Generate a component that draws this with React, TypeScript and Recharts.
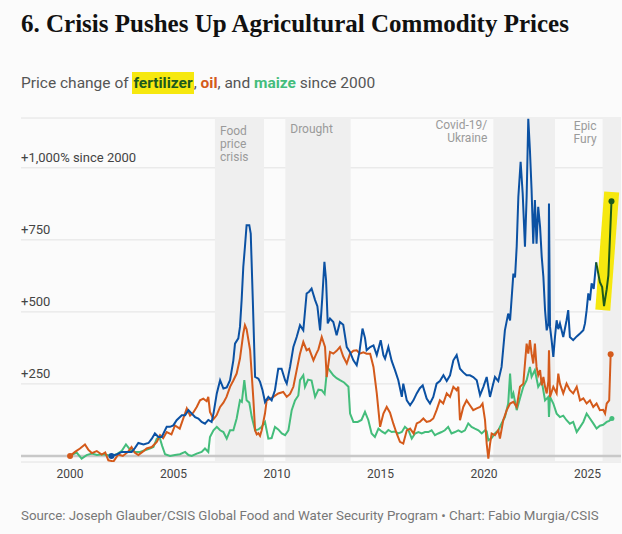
import { CartesianGrid, Line, LineChart, ReferenceArea, ReferenceLine, XAxis, YAxis } from "recharts";

// [year, % change since 2000]
const oil: [number, number][] = [
  [2000.0, 0], [2000.24, 14], [2000.48, 26], [2000.72, 40], [2000.88, 22], [2001.05, 10], [2001.29, 17], [2001.53, 5],
  [2001.7, 12], [2001.85, -15], [2002.1, -19], [2002.33, 5], [2002.55, 0], [2002.8, 14], [2002.97, 31], [2003.12, 12],
  [2003.3, 3], [2003.5, 14], [2003.7, 26], [2003.95, 31], [2004.19, 49], [2004.35, 72], [2004.5, 62], [2004.67, 83],
  [2004.9, 75], [2005.07, 106], [2005.3, 95], [2005.64, 165], [2005.8, 140], [2005.95, 150], [2006.12, 170], [2006.28, 193],
  [2006.44, 199], [2006.6, 190], [2006.68, 205], [2006.76, 153], [2006.93, 128], [2007.08, 141], [2007.25, 170], [2007.41, 185],
  [2007.56, 205], [2007.73, 240], [2007.89, 262], [2008.05, 286], [2008.21, 338], [2008.37, 425], [2008.45, 454], [2008.53, 440],
  [2008.7, 367], [2008.86, 193], [2008.94, 89], [2009.02, 75], [2009.1, 79], [2009.18, 70], [2009.26, 89], [2009.42, 148],
  [2009.5, 193], [2009.66, 198], [2009.82, 205], [2010.06, 217], [2010.3, 222], [2010.47, 205], [2010.63, 215], [2010.79, 240],
  [2010.95, 298], [2011.11, 355], [2011.27, 396], [2011.43, 367], [2011.55, 372], [2011.76, 332], [2011.9, 355], [2012.0, 370],
  [2012.16, 413], [2012.32, 378], [2012.4, 274], [2012.56, 361], [2012.72, 355], [2012.88, 365], [2013.04, 378], [2013.2, 345],
  [2013.37, 321], [2013.53, 355], [2013.69, 365], [2013.85, 367], [2014.0, 355], [2014.17, 360], [2014.33, 355], [2014.5, 355],
  [2014.66, 309], [2014.82, 217], [2014.98, 101], [2015.14, 147], [2015.3, 170], [2015.46, 150], [2015.62, 112], [2015.78, 78],
  [2015.94, 49], [2016.1, 43], [2016.27, 89], [2016.43, 95], [2016.6, 78], [2016.75, 113], [2016.9, 118], [2017.07, 130],
  [2017.23, 118], [2017.39, 121], [2017.55, 130], [2017.71, 159], [2017.87, 193], [2018.03, 182], [2018.2, 217], [2018.36, 205],
  [2018.52, 240], [2018.68, 228], [2018.76, 240], [2018.84, 124], [2019.0, 170], [2019.16, 193], [2019.32, 176], [2019.48, 159],
  [2019.65, 165], [2019.81, 170], [2019.93, 182], [2020.05, 124], [2020.13, 43], [2020.21, -9], [2020.29, 40], [2020.37, 78],
  [2020.53, 72], [2020.69, 89], [2020.77, 60], [2020.93, 124], [2021.1, 159], [2021.26, 182], [2021.42, 188], [2021.58, 170],
  [2021.74, 240], [2021.9, 251], [2021.98, 321], [2022.06, 390], [2022.14, 355], [2022.22, 402], [2022.3, 355], [2022.38, 321],
  [2022.46, 390], [2022.54, 309], [2022.62, 280], [2022.71, 298], [2022.79, 245], [2022.87, 274], [2022.95, 240], [2023.03, 217],
  [2023.11, 260], [2023.14, 367], [2023.19, 205], [2023.35, 240], [2023.51, 217], [2023.59, 286], [2023.67, 251], [2023.83, 217],
  [2023.99, 251], [2024.15, 228], [2024.31, 217], [2024.48, 240], [2024.64, 193], [2024.8, 200], [2024.96, 182], [2025.12, 193],
  [2025.28, 170], [2025.44, 182], [2025.6, 159], [2025.76, 160], [2025.85, 147], [2025.93, 182], [2026.05, 193], [2026.12, 353],
];

const fertilizer: [number, number][] = [
  [2002.0, 0], [2002.25, 5], [2002.5, 14], [2002.75, 14], [2002.98, 14], [2003.14, 28], [2003.3, 45], [2003.55, 40],
  [2003.79, 45], [2003.95, 60], [2004.1, 78], [2004.27, 66], [2004.43, 66], [2004.67, 101], [2004.83, 101], [2004.99, 106],
  [2005.15, 124], [2005.4, 141], [2005.56, 141], [2005.72, 159], [2005.88, 147], [2006.04, 135], [2006.2, 130], [2006.36, 118],
  [2006.52, 112], [2006.68, 125], [2006.84, 118], [2006.93, 147], [2007.09, 217], [2007.25, 263], [2007.41, 234], [2007.57, 238],
  [2007.73, 263], [2007.89, 332], [2007.97, 390], [2008.13, 408], [2008.21, 448], [2008.29, 541], [2008.37, 656], [2008.45, 726],
  [2008.53, 801], [2008.66, 801], [2008.73, 772], [2008.83, 541], [2008.94, 274], [2009.1, 268], [2009.18, 257], [2009.3, 228],
  [2009.42, 187], [2009.58, 205], [2009.74, 193], [2009.9, 228], [2010.06, 303], [2010.22, 303], [2010.39, 263], [2010.47, 251],
  [2010.63, 309], [2010.79, 378], [2010.95, 413], [2011.11, 454], [2011.27, 436], [2011.43, 564], [2011.55, 570], [2011.67, 581],
  [2011.84, 541], [2011.95, 520], [2012.08, 436], [2012.19, 552], [2012.29, 674], [2012.37, 610], [2012.45, 460], [2012.56, 477],
  [2012.72, 465], [2012.88, 419], [2013.04, 465], [2013.2, 455], [2013.37, 378], [2013.53, 360], [2013.69, 332], [2013.85, 315],
  [2013.98, 360], [2014.13, 442], [2014.25, 410], [2014.33, 367], [2014.5, 378], [2014.66, 384], [2014.82, 350], [2015.01, 402],
  [2015.14, 350], [2015.22, 338], [2015.38, 378], [2015.54, 330], [2015.7, 298], [2015.86, 263], [2016.03, 205], [2016.1, 251],
  [2016.27, 193], [2016.43, 176], [2016.59, 193], [2016.75, 217], [2016.9, 235], [2017.04, 245], [2017.23, 199], [2017.39, 182],
  [2017.55, 205], [2017.71, 251], [2017.87, 260], [2018.04, 280], [2018.2, 260], [2018.36, 280], [2018.52, 332], [2018.68, 350],
  [2018.84, 303], [2019.0, 290], [2019.16, 280], [2019.32, 280], [2019.48, 274], [2019.65, 263], [2019.81, 211], [2019.97, 240],
  [2020.13, 274], [2020.29, 205], [2020.41, 240], [2020.53, 274], [2020.69, 260], [2020.85, 309], [2021.01, 436], [2021.17, 494],
  [2021.26, 470], [2021.42, 633], [2021.5, 620], [2021.58, 726], [2021.66, 899], [2021.77, 1021], [2021.87, 911], [2021.98, 726],
  [2022.06, 899], [2022.14, 1170], [2022.22, 1061], [2022.3, 922], [2022.38, 737], [2022.46, 888], [2022.54, 737], [2022.62, 865],
  [2022.71, 795], [2022.79, 691], [2022.87, 621], [2022.95, 506], [2023.03, 436], [2023.11, 460], [2023.14, 876], [2023.19, 448],
  [2023.27, 400], [2023.35, 344], [2023.43, 413], [2023.51, 471], [2023.59, 440], [2023.67, 460], [2023.83, 413], [2023.99, 471],
  [2024.07, 506], [2024.15, 413], [2024.31, 402], [2024.48, 415], [2024.64, 425], [2024.8, 436], [2024.88, 460], [2024.96, 506],
  [2025.04, 564], [2025.12, 540], [2025.2, 599], [2025.3, 580], [2025.42, 672],
];

// latest months of fertilizer, drawn dark green on a marker highlight
const fertilizerLatest: [number, number][] = [
  [2025.42, 672], [2025.6, 603], [2025.71, 586], [2025.8, 520], [2025.93, 579], [2026.01, 627], [2026.16, 884],
];

// span of the yellow marker stroke behind the latest months
const highlightBand: [number, number][] = [
  [2025.74, 506], [2026.17, 916],
];

const maize: [number, number][] = [
  [2000.0, 0], [2000.16, 6], [2000.32, 12], [2000.56, -9], [2000.8, 3], [2001.05, 8], [2001.3, 3], [2001.55, 6],
  [2001.8, 3], [2002.0, 0], [2002.25, 6], [2002.5, 18], [2002.7, 40], [2002.9, 22], [2003.14, 14], [2003.38, 14],
  [2003.62, 20], [2003.85, 26], [2004.03, 31], [2004.19, 60], [2004.32, 66], [2004.45, 35], [2004.59, 6], [2004.83, 0],
  [2005.07, 3], [2005.31, 6], [2005.56, 14], [2005.72, 3], [2005.88, 0], [2006.12, 8], [2006.36, 14], [2006.52, 26],
  [2006.68, 14], [2006.76, 66], [2006.93, 89], [2007.09, 101], [2007.25, 89], [2007.41, 83], [2007.57, 60], [2007.73, 89],
  [2007.89, 89], [2008.05, 130], [2008.21, 193], [2008.3, 188], [2008.42, 263], [2008.53, 193], [2008.66, 185], [2008.78, 135],
  [2008.94, 89], [2009.1, 92], [2009.26, 101], [2009.42, 118], [2009.58, 60], [2009.74, 62], [2009.9, 101], [2010.06, 92],
  [2010.23, 78], [2010.39, 72], [2010.55, 89], [2010.71, 159], [2010.87, 193], [2011.03, 210], [2011.11, 263], [2011.27, 280],
  [2011.35, 240], [2011.5, 265], [2011.67, 262], [2011.84, 205], [2012.0, 230], [2012.16, 228], [2012.3, 215], [2012.43, 309],
  [2012.56, 295], [2012.72, 280], [2012.88, 270], [2013.04, 263], [2013.24, 255], [2013.45, 240], [2013.53, 147], [2013.69, 118],
  [2013.9, 118], [2014.08, 125], [2014.25, 153], [2014.41, 125], [2014.57, 78], [2014.73, 66], [2014.9, 95], [2015.06, 85],
  [2015.22, 78], [2015.38, 90], [2015.54, 83], [2015.7, 85], [2015.86, 78], [2016.03, 83], [2016.18, 101], [2016.35, 90],
  [2016.51, 60], [2016.67, 78], [2016.83, 83], [2016.99, 78], [2017.15, 83], [2017.31, 83], [2017.47, 89], [2017.63, 72],
  [2017.79, 78], [2017.95, 83], [2018.11, 89], [2018.27, 101], [2018.43, 78], [2018.6, 83], [2018.76, 89], [2018.92, 83],
  [2019.08, 89], [2019.24, 113], [2019.4, 101], [2019.56, 95], [2019.73, 89], [2019.89, 78], [2020.05, 89], [2020.13, 85],
  [2020.21, 54], [2020.37, 62], [2020.53, 78], [2020.69, 89], [2020.85, 113], [2021.01, 135], [2021.17, 182], [2021.26, 286],
  [2021.34, 200], [2021.42, 217], [2021.58, 159], [2021.74, 200], [2021.9, 240], [2022.06, 263], [2022.22, 309], [2022.3, 275],
  [2022.46, 298], [2022.62, 240], [2022.79, 260], [2022.95, 193], [2023.11, 205], [2023.14, 135], [2023.19, 205], [2023.35, 182],
  [2023.51, 147], [2023.67, 135], [2023.83, 140], [2023.99, 124], [2024.15, 112], [2024.31, 118], [2024.48, 83], [2024.64, 100],
  [2024.8, 118], [2024.96, 147], [2025.12, 130], [2025.28, 113], [2025.44, 95], [2025.6, 105], [2025.76, 108], [2025.93, 118],
  [2026.05, 122], [2026.18, 130],
];

const crises = [
  { from: 2007.0, to: 2009.37, lines: ["Food", "price", "crisis"], side: "inside", dy: 17 },
  { from: 2010.4, to: 2013.56, lines: ["Drought"], side: "inside", dy: 15 },
  { from: 2020.45, to: 2023.43, lines: ["Covid-19/", "Ukraine"], side: "outside", dy: 11 },
  { from: 2025.73, to: 2026.62, lines: ["Epic", "Fury"], side: "outside", dy: 12 },
];

const yearTicks = [2000, 2005, 2010, 2015, 2020, 2025];
const valueTicks = [0, 250, 500, 750, 1000];
const valueLabels: Record<number, string> = { 250: "+250", 500: "+500", 750: "+750", 1000: "+1,000% since 2000" };

const FONT = "Roboto, 'Liberation Sans', sans-serif";
const BLUE = "#0b51a3";
const ORANGE = "#d45a1b";
const GREEN = "#44bd7b";
const DARK_GREEN = "#1d5a1d";
const YELLOW = "#f6e80f";

const toRows = (pts: [number, number][]) => pts.map(([t, v]) => ({ t, v }));

function endDots(color: string, r: number, first: boolean, last: boolean) {
  return (props: any) => {
    const { cx, cy, index, points } = props;
    const n = points ? points.length - 1 : -1;
    if ((last && index === n) || (first && index === 0)) {
      return <circle key={`d${index}`} cx={cx} cy={cy} r={r} fill={color} />;
    }
    return <g key={`d${index}`} />;
  };
}

function ShadeLabel(props: any) {
  const { viewBox, lines, side, dy } = props;
  const x = side === "inside" ? viewBox.x + 5 : viewBox.x - 6;
  return (
    <text x={x} y={viewBox.y + dy} textAnchor={side === "inside" ? "start" : "end"} fill="#9a9a9a" fontSize={12} fontFamily={FONT}>
      {lines.map((l: string, i: number) => (
        <tspan key={l} x={x} dy={i === 0 ? 0 : 13}>
          {l}
        </tspan>
      ))}
    </text>
  );
}

export default function App() {
  return (
    <div style={{ position: "absolute", left: 0, top: 0, width: 622, height: 534, background: "#fbfbfb", fontFamily: FONT, overflow: "hidden" }}>
      <div style={{ position: "absolute", left: 21, top: 8, fontFamily: "'Liberation Serif', serif", fontWeight: 700, fontSize: 25, lineHeight: "32px", color: "#111" }}>
        6. Crisis Pushes Up Agricultural Commodity Prices
      </div>
      <div style={{ position: "absolute", left: 21, top: 73, fontSize: 15.5, lineHeight: "20px", color: "#555" }}>
        Price change of{" "}
        <span style={{ background: YELLOW, color: DARK_GREEN, fontWeight: 700, padding: "2px 1px" }}>fertilizer</span>,{" "}
        <span style={{ color: ORANGE, fontWeight: 700 }}>oil</span>, and{" "}
        <span style={{ color: GREEN, fontWeight: 700 }}>maize</span> since 2000
      </div>
      <div style={{ position: "absolute", left: 0, top: 0 }}>
        <LineChart width={622} height={534} margin={{ top: 118, right: 1, bottom: 52, left: 21 }}>
          <CartesianGrid vertical={false} stroke="#e2e2e2" />
          {crises.map((c) => (
            <ReferenceArea
              key={c.from}
              x1={c.from}
              x2={c.to}
              fill="#efefef"
              fillOpacity={1}
              stroke="none"
              ifOverflow="hidden"
              label={<ShadeLabel lines={c.lines} side={c.side} dy={c.dy} />}
            />
          ))}
          <XAxis
            type="number"
            dataKey="t"
            domain={[1997.63, 2026.62]}
            ticks={yearTicks}
            allowDataOverflow
            axisLine={false}
            tickLine={false}
            tickSize={0}
            tickMargin={0}
            height={20}
            tick={(p: any) => (
              <text x={p.x} y={p.y} dy={16} textAnchor="middle" fill="#444" fontSize={12} fontFamily={FONT}>
                {p.payload.value}
              </text>
            )}
          />
          <YAxis
            type="number"
            dataKey="v"
            domain={[-21, 1173]}
            ticks={valueTicks}
            allowDataOverflow
            mirror
            width={120}
            axisLine={false}
            tickLine={false}
            tickSize={0}
            tickMargin={0}
            interval={0}
            tick={(p: any) =>
              p.payload.value === 0 ? (
                <g />
              ) : (
                <text x={p.x} y={p.y - 6} textAnchor="start" fill="#444" fontSize={13} fontFamily={FONT}>
                  {valueLabels[p.payload.value]}
                </text>
              )
            }
          />
          <ReferenceLine y={0} stroke="#c8c8c8" strokeWidth={2.5} />
          <Line data={toRows(maize)} dataKey="v" stroke={GREEN} strokeWidth={2} dot={endDots(GREEN, 2.5, false, true)} isAnimationActive={false} />
          <Line data={toRows(oil)} dataKey="v" stroke={ORANGE} strokeWidth={2} dot={endDots(ORANGE, 3, true, true)} isAnimationActive={false} />
          <Line data={toRows(fertilizer)} dataKey="v" stroke={BLUE} strokeWidth={2} dot={endDots(BLUE, 3, true, false)} isAnimationActive={false} />
          <Line data={toRows(highlightBand)} dataKey="v" stroke={YELLOW} strokeWidth={15} strokeLinecap="butt" dot={false} isAnimationActive={false} />
          <Line data={toRows(fertilizerLatest)} dataKey="v" stroke={DARK_GREEN} strokeWidth={2} dot={endDots(DARK_GREEN, 3, false, true)} isAnimationActive={false} />
        </LineChart>
      </div>
      <div style={{ position: "absolute", left: 21, top: 506, fontSize: 13.3, lineHeight: "20px", color: "#777" }}>
        Source: Joseph Glauber/CSIS Global Food and Water Security Program • Chart: Fabio Murgia/CSIS
      </div>
    </div>
  );
}
